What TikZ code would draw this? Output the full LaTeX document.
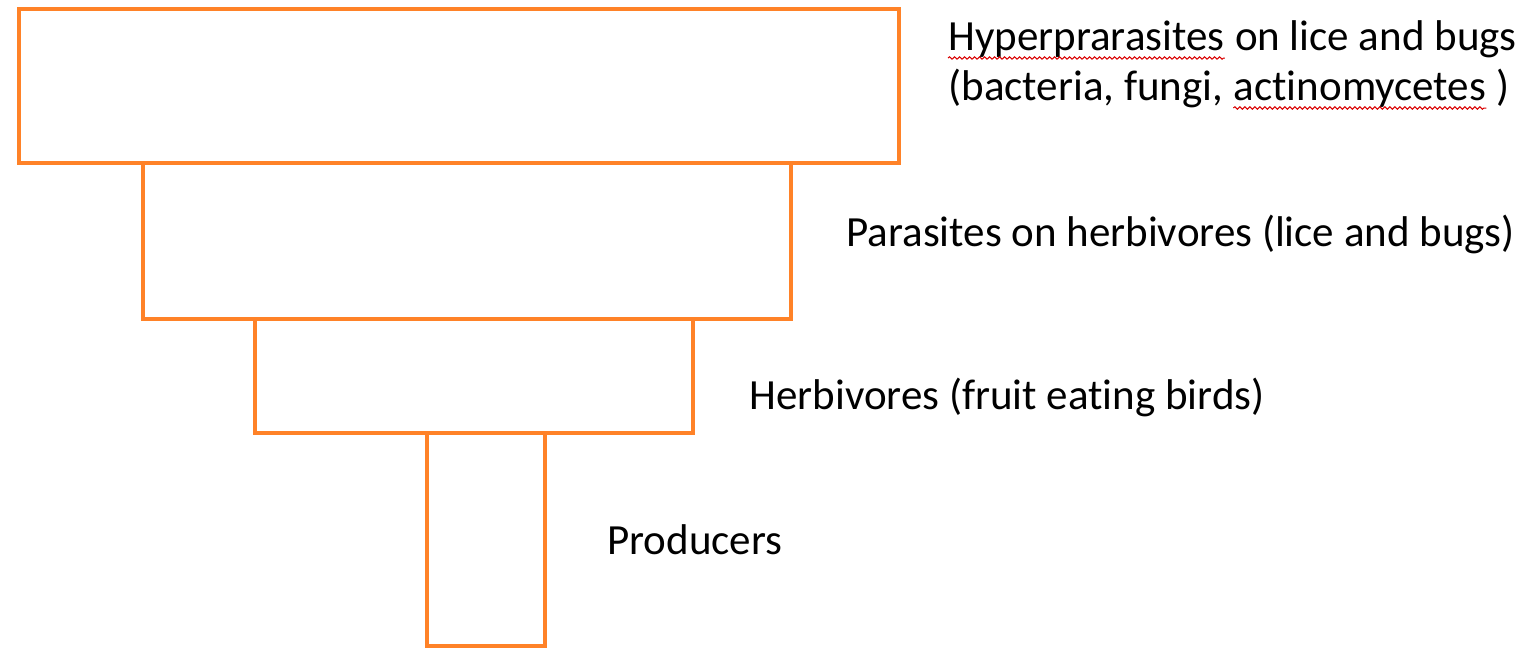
\documentclass[tikz,border=0pt]{standalone}
\usepackage{fontspec}
\setmainfont{Carlito}[Ligatures=NoCommon]
\usetikzlibrary{decorations.pathmorphing}
\definecolor{pyrorange}{RGB}{255,130,40}
\tikzset{
  level/.style={draw=pyrorange, line width=2pt, line join=miter},
  lbl/.style={anchor=base west, inner sep=0pt, font=\fontsize{21.5}{26}\selectfont, text=black},
  squiggle/.style={draw=red!85!black, line width=0.5pt, decorate, decoration={snake, amplitude=0.6pt, segment length=2.5pt}}
}
\begin{document}
\begin{tikzpicture}[x=0.5pt, y=-0.5pt]
\useasboundingbox (0,0) rectangle (1527,648);
% pyramid levels
\draw[level] (19,9) rectangle (899,163);
\draw[level] (143,163) rectangle (791,319);
\draw[level] (255,319) rectangle (693,433);
\draw[level] (427,433) rectangle (545,646);
% labels
\node[lbl] (w1) at (948,50) {Hyperprarasites};
\node[lbl] (w2) at (w1.base east) {\ on lice and bugs};
\node[lbl] (w3) at (948,100) {(bacteria, fungi,\ \null};
\node[lbl] (w4) at (w3.base east) {actinomycetes};
\node[lbl] (w5) at (w4.base east) {\ )};
\draw[squiggle] ([yshift=-4pt]w1.base west) -- ([yshift=-4pt]w1.base east);
\draw[squiggle] ([yshift=-4pt]w4.base west) -- ([yshift=-4pt]w4.base east);
\node[lbl] (parasites) at (846,246) {Parasites on herbivores (lice and bugs)};
\node[lbl] (herbivores) at (749,409) {Herbivores (fruit eating birds)};
\node[lbl] (producers) at (607,554) {Producers};
\end{tikzpicture}
\end{document}
